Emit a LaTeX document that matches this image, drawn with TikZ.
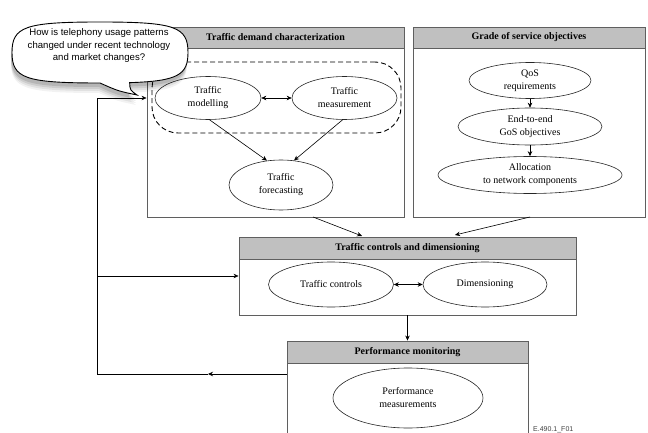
\documentclass[tikz,border=0pt]{standalone}
\usepackage{fontspec}
\setmainfont{Liberation Serif}
\newfontfamily\bubblefont{Liberation Sans}
\usetikzlibrary{shapes.geometric,arrows.meta}
\definecolor{hdrgray}{RGB}{192,192,192}
\definecolor{boxline}{RGB}{95,95,95}
\tikzset{
  box/.style={draw=boxline, line width=0.9pt, inner sep=0pt},
  hdr/.style={draw=boxline, line width=0.9pt, fill=hdrgray, inner sep=0pt, anchor=north,
     font=\fontsize{10}{12}\selectfont\bfseries},
  ell/.style={ellipse, draw=black!85, line width=0.6pt, inner sep=0pt, align=center,
     font=\fontsize{10}{13}\selectfont},
  dashbox/.style={draw=black, line width=0.9pt, dash pattern=on 5pt off 3pt, rounded corners=26pt, inner sep=0pt},
  arr/.style={-{Stealth[length=5pt,width=4.5pt]}, line width=0.6pt},
  darr/.style={{Stealth[length=5pt,width=4.5pt]}-{Stealth[length=5pt,width=4.5pt]}, line width=0.6pt},
  bubblepathstyle/.style={line width=0.9pt}
}
\newcommand{\bubbleOutline}{%
  (129.66,82.64) .. controls (178.46,81.14) and (188,74.52) .. (188,52.5)
  .. controls (188,26.6) and (174.8,22) .. (100,22)
  .. controls (25.2,22) and (12,26.6) .. (12,52.5)
  .. controls (12,78.4) and (25.2,83) .. (100,83)
  .. controls (118,91) .. (137,95)
  .. controls (130,90) .. (129.66,82.64) -- cycle}
\begin{document}
\begin{tikzpicture}[x=1pt,y=-1pt]
\useasboundingbox (0,0) rectangle (648,433);

% ---- Box 1: Traffic demand characterization
\node[box, minimum width=257, minimum height=190] (B1) at (275.5,122) {};
\node[hdr, minimum width=257, minimum height=21] (H1) at (B1.north) {Traffic demand characterization};
\node[dashbox, minimum width=249, minimum height=71] (grp) at (276.5,97.5) {};
\node[ell, minimum width=106, minimum height=43] (mod) at (208,98) {Traffic\\modelling};
\node[ell, minimum width=105, minimum height=43] (meas) at (344.5,98) {Traffic\\measurement};
\node[ell, minimum width=104, minimum height=50] (fore) at (281,185) {Traffic\\forecasting};
\draw[darr] (mod.east) -- (meas.west);
\draw[arr] (mod.-86) -- (fore.120);
\draw[arr] (meas.-95) -- (fore.62);

% ---- Box 2: Grade of service objectives
\node[box, minimum width=232, minimum height=190] (B2) at (529,122) {};
\node[hdr, minimum width=232, minimum height=21] (H2) at (B2.north) {Grade of service objectives};
\node[ell, minimum width=122, minimum height=36] (qos) at (530,80.5) {QoS\\requirements};
\node[ell, minimum width=144, minimum height=37] (e2e) at (530,126.5) {End-to-end\\GoS objectives};
\node[ell, minimum width=184, minimum height=37] (alloc) at (530,175) {Allocation\\to network components};
\draw[arr] (qos.south) -- (e2e.north);
\draw[arr] (e2e.south) -- (alloc.north);

% ---- Box 3: Traffic controls and dimensioning
\node[box, minimum width=337, minimum height=78] (B3) at (407.5,276) {};
\node[hdr, minimum width=337, minimum height=22] (H3) at (B3.north) {Traffic controls and dimensioning};
\node[ell, minimum width=125, minimum height=45] (tc) at (331,284.5) {Traffic controls};
\node[ell, minimum width=124, minimum height=45] (dim) at (485,284.5) {Dimensioning};
\draw[darr] (tc.east) -- (dim.west);

% ---- Box 4: Performance monitoring
\node[box, minimum width=241, minimum height=104] (B4) at (407.5,393) {};
\node[hdr, minimum width=241, minimum height=22] (H4) at (B4.north) {Performance monitoring};
\node[ell, minimum width=150, minimum height=60] (pm) at (408,398) {Performance\\measurements};

% ---- Connectors between boxes
\coordinate (s1) at (313,217);
\coordinate (t1) at (362,236);
\coordinate (s2) at (530,217);
\coordinate (t2) at (455,235);
\draw[arr] (s1) -- (t1);
\draw[arr] (s2) -- (t2);
\draw[arr] (B3.south) -- (H4.north);

% ---- Feedback loop
\coordinate (fbTL) at (97,98);
\coordinate (fbMid) at (97,276);
\coordinate (fbBL) at (97,374);
\coordinate (fbArr) at (208,374);
\draw[arr] (B4.west |- fbBL) -- (fbArr);
\draw[line width=0.6pt] (fbArr) -- (fbBL) -- (fbTL);
\draw[arr] (fbTL) -- (B1.west |- fbTL);
\draw[arr] (fbMid) -- (B3.west |- fbMid);

% ---- Speech bubble
\foreach \dy/\op in {10/0.05,8/0.07,6/0.09,4/0.11}{
  \fill[black, opacity=\op, shift={(-1,\dy)}] \bubbleOutline;
}
\draw[bubblepathstyle, fill=white] \bubbleOutline;
\node[align=center, font=\bubblefont\fontsize{9.6}{12.5}\selectfont, inner sep=0pt] (q) at (99,46)
  {How is telephony usage patterns\\changed under recent technology\\and market changes?};

% ---- Figure label
\node[anchor=base west, font=\bubblefont\fontsize{7}{8}\selectfont, inner sep=0pt, text=black!75] (lbl) at (533,431) {E.490.1\_F01};
\end{tikzpicture}
\end{document}
